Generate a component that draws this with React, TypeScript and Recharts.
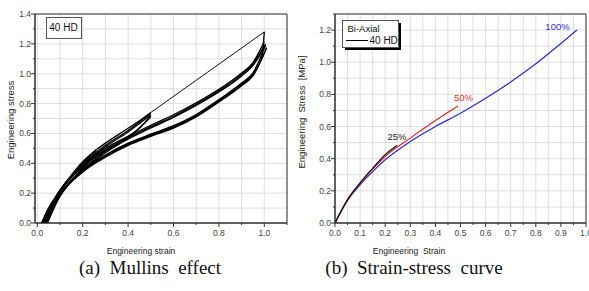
import React from "react";
import { LineChart, Line, XAxis, YAxis, CartesianGrid, ReferenceArea } from "recharts";

type Pt = [number, number];

// (a) Mullins effect — loading / unloading branches, 40 HD
const virgin25: Pt[] = [[0.02, 0], [0.04, 0.07], [0.07, 0.15], [0.1, 0.22], [0.15, 0.32], [0.2, 0.41], [0.26, 0.49]];
const reload25: Pt[] = [[0.02, 0], [0.05, 0.1], [0.1, 0.21], [0.15, 0.31], [0.2, 0.4], [0.26, 0.49]];
const unload25a: Pt[] = [[0.025, 0], [0.05, 0.08], [0.1, 0.19], [0.15, 0.28], [0.2, 0.37], [0.26, 0.48]];
const unload25b: Pt[] = [[0.03, 0], [0.06, 0.09], [0.1, 0.18], [0.15, 0.28], [0.2, 0.36], [0.255, 0.47]];

const virgin50: Pt[] = [[0.26, 0.49], [0.3, 0.535], [0.35, 0.585], [0.4, 0.635], [0.45, 0.685], [0.5, 0.74]];
const reload50a: Pt[] = [[0.02, 0], [0.1, 0.215], [0.2, 0.395], [0.3, 0.52], [0.4, 0.62], [0.5, 0.735]];
const reload50b: Pt[] = [[0.025, 0], [0.1, 0.21], [0.2, 0.385], [0.3, 0.51], [0.4, 0.61], [0.5, 0.725]];
const unload50a: Pt[] = [[0.03, 0], [0.1, 0.19], [0.2, 0.36], [0.3, 0.48], [0.4, 0.58], [0.45, 0.635], [0.5, 0.72]];
const unload50b: Pt[] = [[0.035, 0], [0.1, 0.185], [0.2, 0.355], [0.3, 0.47], [0.4, 0.57], [0.5, 0.71]];

const virgin100: Pt[] = [[0.5, 0.74], [0.75, 1.01], [1.0, 1.28]];
const reload100a: Pt[] = [[0.02, 0], [0.1, 0.22], [0.2, 0.39], [0.3, 0.5], [0.4, 0.58], [0.5, 0.655], [0.6, 0.725], [0.7, 0.805], [0.8, 0.895], [0.9, 1.005], [0.95, 1.075], [1.0, 1.215]];
const reload100b: Pt[] = [[0.025, 0], [0.1, 0.215], [0.2, 0.38], [0.3, 0.49], [0.4, 0.57], [0.5, 0.645], [0.6, 0.715], [0.7, 0.795], [0.8, 0.885], [0.9, 0.995], [0.95, 1.065], [1.005, 1.2]];
const reload100c: Pt[] = [[0.03, 0], [0.1, 0.21], [0.2, 0.375], [0.3, 0.485], [0.4, 0.562], [0.5, 0.637], [0.6, 0.707], [0.7, 0.787], [0.8, 0.877], [0.9, 0.985], [0.95, 1.055], [1.005, 1.19]];
const unload100a: Pt[] = [[0.04, 0], [0.1, 0.19], [0.2, 0.35], [0.3, 0.45], [0.4, 0.53], [0.5, 0.59], [0.6, 0.645], [0.7, 0.72], [0.8, 0.82], [0.9, 0.93], [0.95, 1.0], [0.99, 1.12], [1.0, 1.28]];
const unload100b: Pt[] = [[0.04, 0], [0.1, 0.185], [0.2, 0.345], [0.3, 0.445], [0.4, 0.525], [0.5, 0.585], [0.6, 0.64], [0.7, 0.715], [0.8, 0.815], [0.9, 0.925], [0.95, 0.99], [1.01, 1.17]];
const unload100c: Pt[] = [[0.035, 0], [0.1, 0.19], [0.2, 0.355], [0.3, 0.455], [0.4, 0.535], [0.5, 0.595], [0.6, 0.652], [0.7, 0.727], [0.8, 0.827], [0.9, 0.937], [0.95, 1.005], [1.005, 1.19]];
const unload100d: Pt[] = [[0.045, 0], [0.1, 0.18], [0.2, 0.34], [0.3, 0.44], [0.4, 0.52], [0.5, 0.58], [0.6, 0.635], [0.7, 0.71], [0.8, 0.81], [0.9, 0.92], [0.95, 0.985], [1.01, 1.175]];

const mullinsThick = [
  virgin25, reload25, unload25a, unload25b,
  virgin50, reload50a, reload50b, unload50a, unload50b,
  reload100a, reload100b, reload100c, unload100a, unload100b, unload100c, unload100d,
];
const mullinsThin = [virgin100];

// (b) Strain-stress curve — Bi-Axial, 40 HD
const curve100: Pt[] = [[0, 0], [0.02, 0.06], [0.05, 0.14], [0.1, 0.238], [0.15, 0.32], [0.2, 0.393], [0.3, 0.507], [0.4, 0.6], [0.5, 0.683], [0.6, 0.776], [0.7, 0.877], [0.8, 0.99], [0.9, 1.117], [0.964, 1.2]];
const curve50: Pt[] = [[0, 0], [0.02, 0.06], [0.05, 0.145], [0.1, 0.245], [0.15, 0.335], [0.2, 0.414], [0.3, 0.528], [0.4, 0.637], [0.49, 0.728]];
const curve25: Pt[] = [[0, 0], [0.05, 0.145], [0.1, 0.25], [0.15, 0.34], [0.2, 0.425], [0.247, 0.482]];

const ticksA_x = [0, 0.1, 0.2, 0.3, 0.4, 0.5, 0.6, 0.7, 0.8, 0.9, 1.0, 1.1];
const ticksA_y = [0, 0.1, 0.2, 0.3, 0.4, 0.5, 0.6, 0.7, 0.8, 0.9, 1.0, 1.1, 1.2, 1.3, 1.4];
const ticksB_x = [0, 0.05, 0.1, 0.15, 0.2, 0.25, 0.3, 0.35, 0.4, 0.45, 0.5, 0.55, 0.6, 0.65, 0.7, 0.75, 0.8, 0.85, 0.9, 0.95, 1.0];
const ticksB_y = [0, 0.1, 0.2, 0.3, 0.4, 0.5, 0.6, 0.7, 0.8, 0.9, 1.0, 1.1, 1.2, 1.3];

const toRows = (pts: Pt[]) => pts.map(([x, y]) => ({ x, y }));

const SANS = "'Liberation Sans', Arial, sans-serif";
const SERIF = "'Liberation Serif', 'Times New Roman', serif";
const TICK_COLOR = "#444";
const FRAME = "#333";
const GRID = "#dedede";

const isMajor = (v: number, step: number) => Math.round(v * 100) % step === 0;

const bottomTick = (step: number, maxLabel: number) => (p: any) => {
  const v = p.payload.value;
  const major = isMajor(v, step);
  return (
    <g>
      <line x1={p.x} x2={p.x} y1={p.y} y2={p.y + (major ? 4 : 2)} stroke={FRAME} />
      {major && v <= maxLabel + 1e-9 && (
        <text x={p.x} y={p.y + 13} textAnchor="middle" fontSize={8.5} fill={TICK_COLOR} fontFamily={SANS}>
          {v.toFixed(1)}
        </text>
      )}
    </g>
  );
};

const leftTick = (step: number, maxLabel: number) => (p: any) => {
  const v = p.payload.value;
  const major = isMajor(v, step);
  return (
    <g>
      <line x1={p.x} x2={p.x - (major ? 4 : 2)} y1={p.y} y2={p.y} stroke={FRAME} />
      {major && v <= maxLabel + 1e-9 && (
        <text x={p.x - 4} y={p.y + 3} textAnchor="end" fontSize={8.5} fill={TICK_COLOR} fontFamily={SANS}>
          {v.toFixed(1)}
        </text>
      )}
    </g>
  );
};

const abs = (style: React.CSSProperties): React.CSSProperties => ({ position: "absolute", whiteSpace: "pre", ...style });

function YTitle({ cx, cy, text }: { cx: number; cy: number; text: string }) {
  return (
    <div
      style={abs({
        left: cx,
        top: cy,
        transform: "translate(-50%, -50%) rotate(-90deg)",
        fontFamily: SANS,
        fontSize: 9.5,
        color: "#222",
      })}
    >
      {text}
    </div>
  );
}

export default function App() {
  return (
    <div style={{ position: "fixed", left: 0, top: 0, width: 589, height: 291, background: "#fff", overflow: "hidden" }}>
      {/* (a) Mullins effect */}
      <div style={abs({ left: 0, top: 0 })}>
        <LineChart width={290} height={240} margin={{ top: 14, right: 3, bottom: 0, left: 0 }}>
          <CartesianGrid stroke={GRID} />
          <XAxis
            type="number"
            dataKey="x"
            domain={[-0.01, 1.1]}
            ticks={ticksA_x}
            interval={0}
            height={17}
            tickSize={0}
            tickMargin={0}
            tickLine={false}
            axisLine={{ stroke: FRAME }}
            tick={bottomTick(20, 1.0)}
            allowDataOverflow
          />
          <YAxis
            type="number"
            dataKey="y"
            domain={[0, 1.4]}
            ticks={ticksA_y}
            interval={0}
            width={35}
            tickSize={0}
            tickMargin={0}
            tickLine={false}
            axisLine={{ stroke: FRAME }}
            tick={leftTick(20, 1.4)}
            allowDataOverflow
          />
          <ReferenceArea x1={-0.01} x2={1.1} y1={0} y2={1.4} fill="none" stroke={FRAME} strokeWidth={1} />
          {mullinsThin.map((s, i) => (
            <Line key={"t" + i} data={toRows(s)} dataKey="y" type="linear" stroke="#111" strokeWidth={1} dot={false} isAnimationActive={false} />
          ))}
          {mullinsThick.map((s, i) => (
            <Line key={"k" + i} data={toRows(s)} dataKey="y" type="monotone" stroke="#000" strokeWidth={1.3} dot={false} isAnimationActive={false} />
          ))}
        </LineChart>
      </div>

      {/* (b) Strain-stress curve */}
      <div style={abs({ left: 290, top: 0 })}>
        <LineChart width={299} height={240} margin={{ top: 14, right: 3, bottom: 0, left: 0 }}>
          <CartesianGrid stroke={GRID} />
          <XAxis
            type="number"
            dataKey="x"
            domain={[0, 1.0]}
            ticks={ticksB_x}
            interval={0}
            height={17}
            tickSize={0}
            tickMargin={0}
            tickLine={false}
            axisLine={{ stroke: FRAME }}
            tick={bottomTick(10, 1.0)}
            allowDataOverflow
          />
          <YAxis
            type="number"
            dataKey="y"
            domain={[0, 1.3]}
            ticks={ticksB_y}
            interval={0}
            width={45}
            tickSize={0}
            tickMargin={0}
            tickLine={false}
            axisLine={{ stroke: FRAME }}
            tick={leftTick(20, 1.2)}
            allowDataOverflow
          />
          <ReferenceArea x1={0} x2={1.0} y1={0} y2={1.3} fill="none" stroke={FRAME} strokeWidth={1} />
          <Line data={toRows(curve100)} dataKey="y" type="monotone" stroke="#2a2ad4" strokeWidth={1.2} dot={false} isAnimationActive={false} />
          <Line data={toRows(curve50)} dataKey="y" type="monotone" stroke="#e02828" strokeWidth={1.2} dot={false} isAnimationActive={false} />
          <Line data={toRows(curve25)} dataKey="y" type="monotone" stroke="#111" strokeWidth={1.2} dot={false} isAnimationActive={false} />
        </LineChart>
      </div>

      {/* axis titles */}
      <div style={abs({ left: 141, top: 251, transform: "translate(-50%, -50%)", fontFamily: SANS, fontSize: 8.5, color: "#222" })}>
        Engineering strain
      </div>
      <div style={abs({ left: 409, top: 251, transform: "translate(-50%, -50%)", fontFamily: SANS, fontSize: 8.5, color: "#222" })}>
        {"Engineering  Strain"}
      </div>
      <YTitle cx={10} cy={120} text="Engineering stress" />
      <YTitle cx={301} cy={112} text={"Engineering  Stress  [MPa]"} />

      {/* legend boxes */}
      <div style={abs({ left: 45.5, top: 16.5, width: 34, height: 20, border: "1px solid #555", background: "#fff", fontFamily: SANS, fontSize: 10, lineHeight: "20px", textAlign: "center", color: "#111" })}>
        40 HD
      </div>
      <div style={abs({ left: 345, top: 23, width: 56, height: 27, background: "#000" })} />
      <div style={abs({ left: 341.5, top: 20, width: 55, height: 26, border: "1px solid #555", background: "#fff", fontFamily: SANS, color: "#111" })}>
        <div style={abs({ left: 5, top: 2, fontSize: 9.5 })}>Bi-Axial</div>
        <div style={abs({ left: 3, top: 19, width: 22, height: 1, background: "#000" })} />
        <div style={abs({ left: 27, top: 13.5, fontSize: 10 })}>40 HD</div>
      </div>

      {/* curve labels */}
      <div style={abs({ left: 397, top: 136, transform: "translate(-50%, -50%)", fontFamily: SANS, fontSize: 9.5, color: "#222" })}>25%</div>
      <div style={abs({ left: 463.5, top: 97, transform: "translate(-50%, -50%)", fontFamily: SANS, fontSize: 9.5, color: "#d83030" })}>50%</div>
      <div style={abs({ left: 557.5, top: 26, transform: "translate(-50%, -50%)", fontFamily: SANS, fontSize: 9.5, color: "#3030c8" })}>100%</div>

      {/* captions */}
      <div style={abs({ left: 150, top: 268, transform: "translate(-50%, -50%)", fontFamily: SERIF, fontSize: 19, color: "#111" })}>
        {"(a)  Mullins  effect"}
      </div>
      <div style={abs({ left: 414, top: 268, transform: "translate(-50%, -50%)", fontFamily: SERIF, fontSize: 19, color: "#111" })}>
        {"(b)  Strain-stress  curve"}
      </div>
    </div>
  );
}
